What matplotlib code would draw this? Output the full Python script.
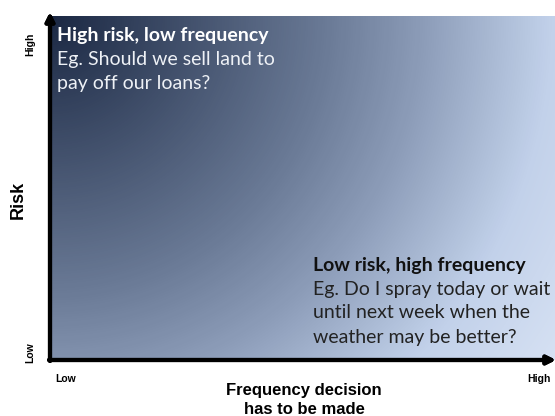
import matplotlib.pyplot as plt
import numpy as np
from matplotlib.colors import LinearSegmentedColormap

# gradient colour stops (dark top-left -> light bottom-right)
grad_stops = [0.0, 0.45, 0.6, 0.82, 1.0]
grad_colors = ["#1b2843", "#6a7a96", "#8a9ab6", "#c2d1ea", "#d6e1f3"]

# text content
y_ticks = ["Low", "High"]
x_ticks = ["Low", "High"]
y_title = "Risk"
x_title = ["Frequency decision", "has to be made"]
box_titles = ["High risk, low frequency", "Low risk, high frequency"]
box_texts = [["Eg. Should we sell land to", "pay off our loans?"],
             ["Eg. Do I spray today or wait", "until next week when the",
              "weather may be better?"]]

W, H = 555, 416
fig = plt.figure(figsize=(W / 100, H / 100), dpi=100)
ax = fig.add_axes([50 / W, (H - 360) / H, 505 / W, 344 / H])

# radial gradient from the top-left corner
nx, ny = 505, 344
xx, yy = np.meshgrid(np.arange(nx), np.arange(ny))
dist = np.sqrt(xx ** 2 + yy ** 2) / np.sqrt(nx ** 2 + ny ** 2)
cmap = LinearSegmentedColormap.from_list("g", list(zip(grad_stops, grad_colors)))
ax.imshow(dist, cmap=cmap, extent=[0, 1, 0, 1], origin="upper", aspect="auto", vmin=0, vmax=1)
ax.set_xlim(0, 1)
ax.set_ylim(0, 1)
ax.axis("off")

# axis arrows
arw = dict(arrowstyle="-|>,head_length=0.5,head_width=0.25", color="black", lw=3,
           shrinkA=0, shrinkB=0)
fig.add_artist(plt.annotate("", xy=(50 / W, (H - 12) / H), xytext=(50 / W, (H - 361) / H),
                            xycoords="figure fraction", arrowprops=arw))
fig.add_artist(plt.annotate("", xy=(556 / W, (H - 360) / H), xytext=(49 / W, (H - 360) / H),
                            xycoords="figure fraction", arrowprops=arw))

font = "Lato"
step = 24


def block(x, y, title, lines, tcol, bcol):
    fig.text(x / W, (H - y) / H, title, color=tcol, fontsize=14, fontweight="bold",
             family=font, va="center", ha="left")
    for i, s in enumerate(lines):
        fig.text(x / W, (H - y - step * (i + 1)) / H, s, color=bcol, fontsize=14,
                 family=font, va="center", ha="left")


block(57, 36, box_titles[0], box_texts[0], "white", "#eef1f6")
block(313, 265, box_titles[1], box_texts[1], "#111111", "#222222")

# axis labels
lab = dict(fontweight="bold", family="Liberation Sans", color="black")
fig.text(30 / W, (H - 44) / H, y_ticks[1], rotation=90, fontsize=7.5, ha="center", va="center", **lab)
fig.text(30 / W, (H - 353) / H, y_ticks[0], rotation=90, fontsize=7.5, ha="center", va="center", **lab)
fig.text(18 / W, (H - 200) / H, y_title, rotation=90, fontsize=13, ha="center", va="center", **lab)
fig.text(55 / W, (H - 379) / H, x_ticks[0], fontsize=7.5, ha="left", va="center", **lab)
fig.text(551 / W, (H - 379) / H, x_ticks[1], fontsize=7.5, ha="right", va="center", **lab)
fig.text(304 / W, (H - 390) / H, x_title[0], fontsize=12, ha="center", va="center", **lab)
fig.text(304 / W, (H - 409) / H, x_title[1], fontsize=12, ha="center", va="center", **lab)

fig.savefig("out.png", dpi=100)
